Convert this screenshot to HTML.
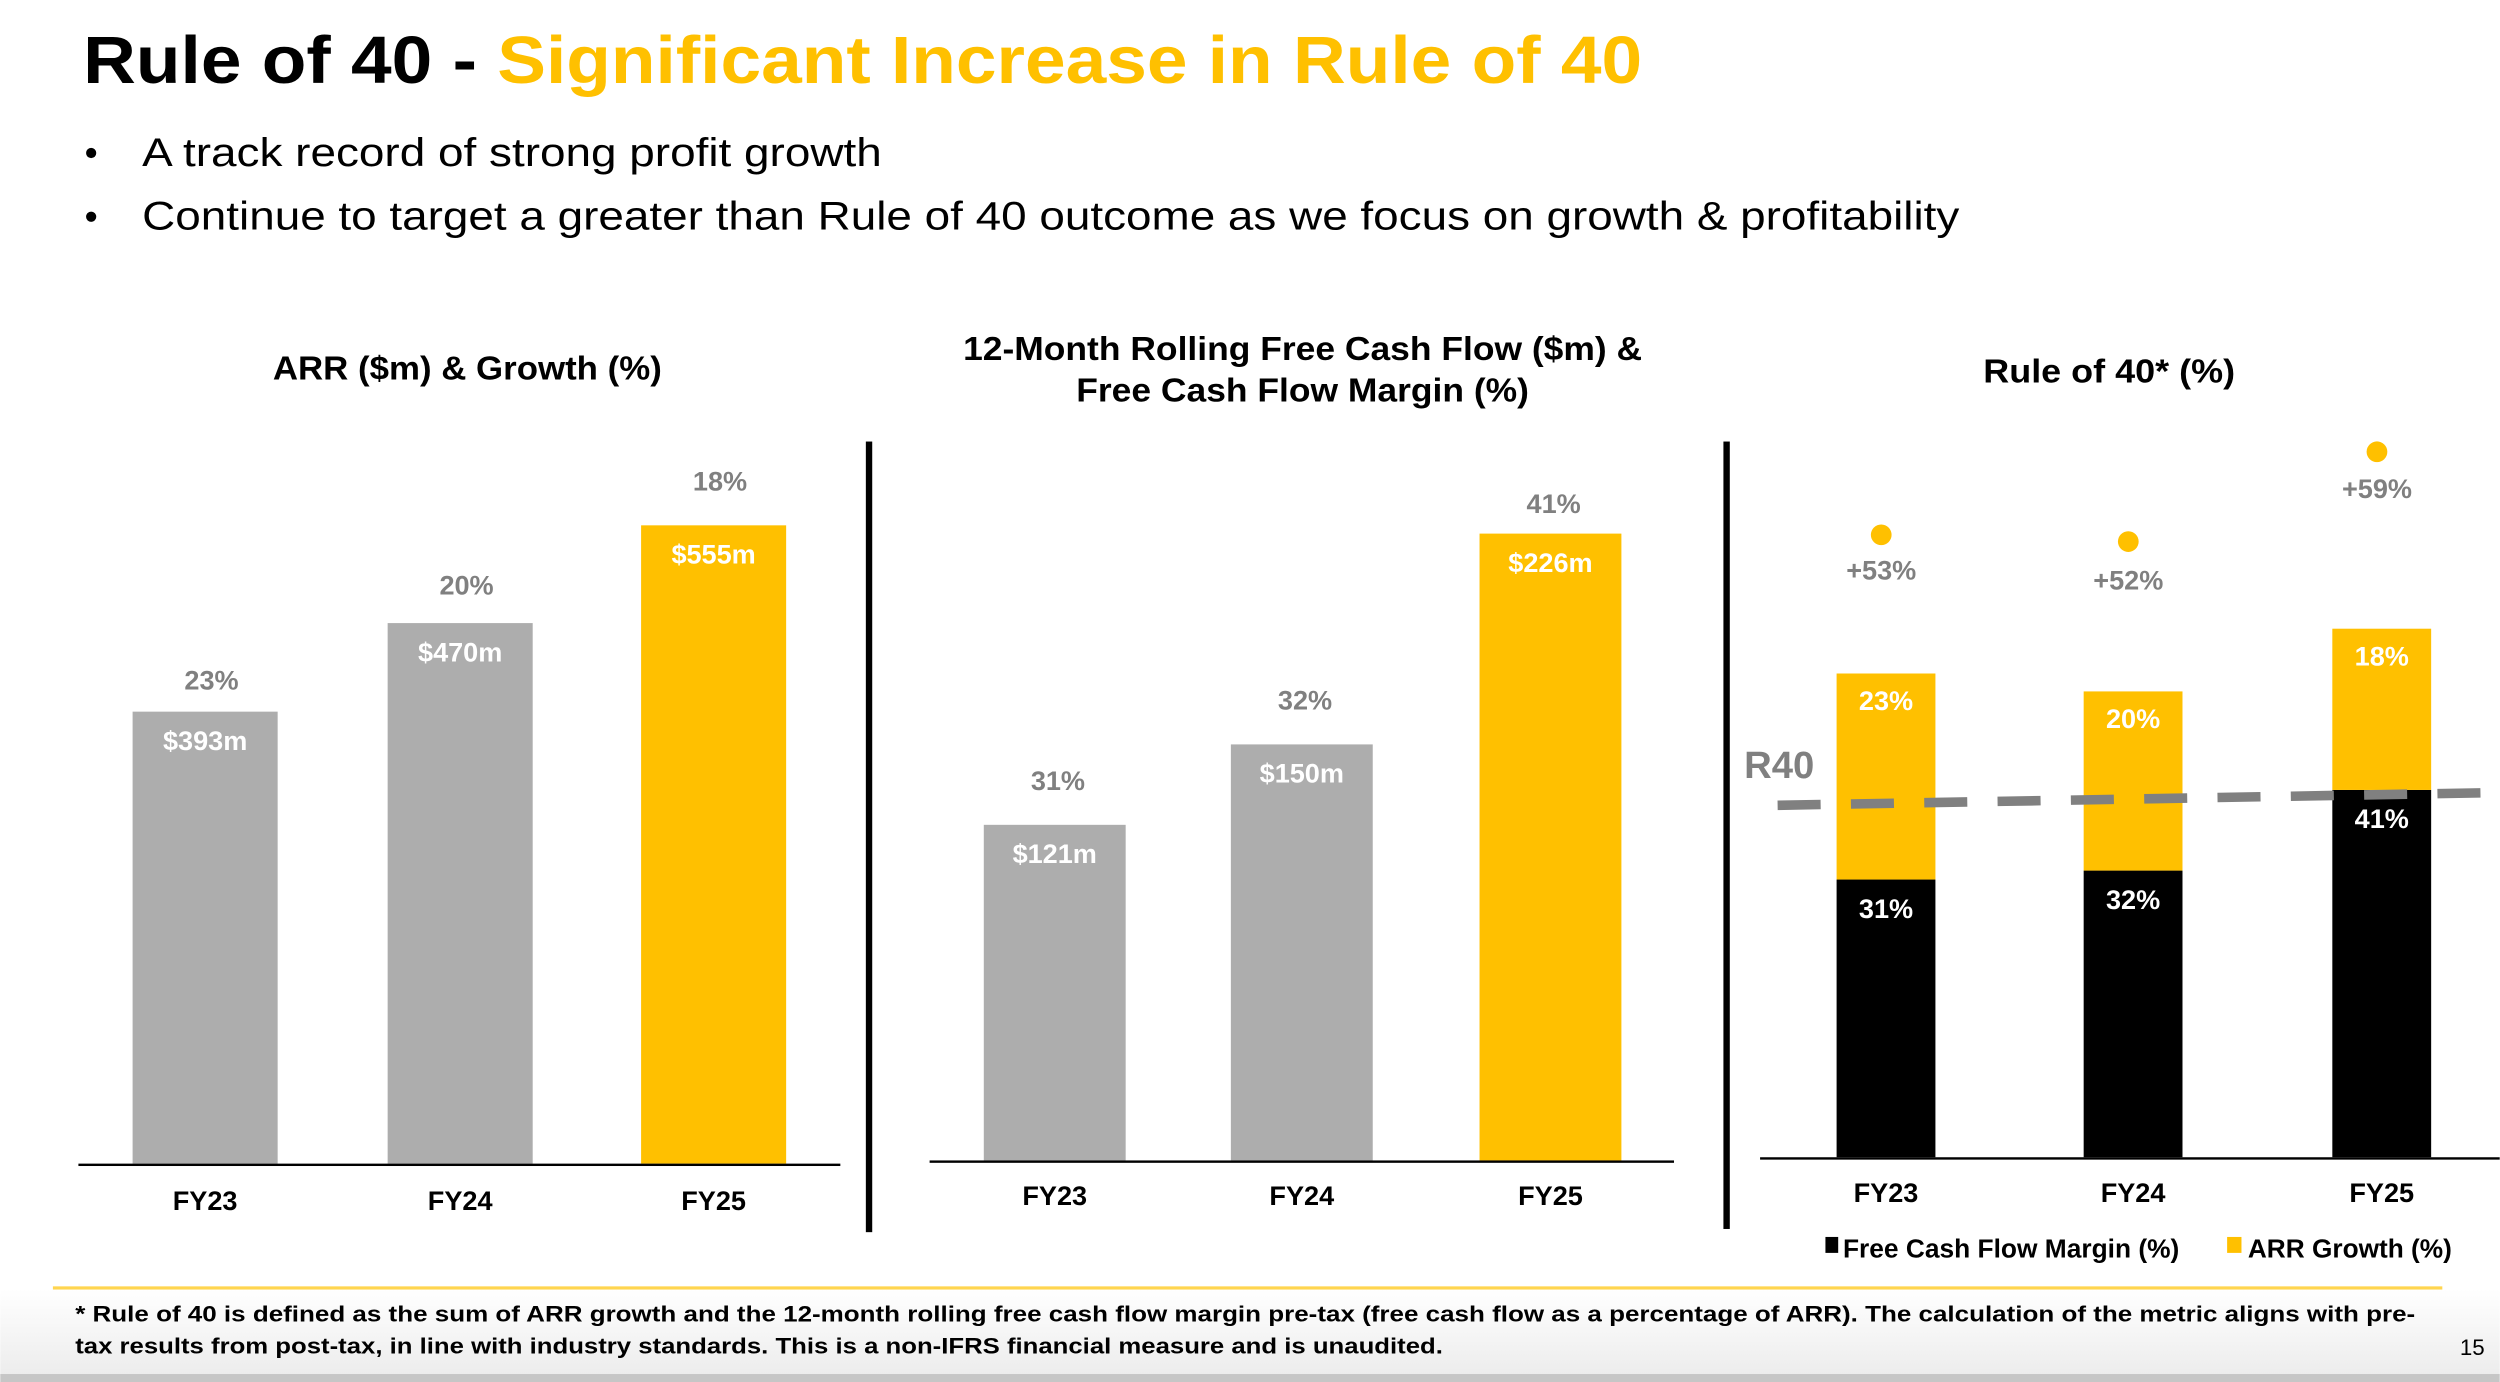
<!DOCTYPE html>
<html><head><meta charset="utf-8"><style>
html,body{margin:0;padding:0;background:#fff;width:2500px;height:1382px;overflow:hidden}
svg{display:block}
text{font-family:"Liberation Sans",sans-serif}
</style></head><body>
<svg id="s" width="2500" height="1382" viewBox="0 0 1568 867" xmlns="http://www.w3.org/2000/svg">
<defs><linearGradient id="g" x1="0" y1="0" x2="0" y2="1"><stop offset="0" stop-color="#fff"/><stop offset="1" stop-color="#ececec"/></linearGradient></defs>
<rect x="0" y="809" width="1568" height="54" fill="url(#g)"/>
<rect x="0" y="862" width="1568" height="5" fill="#c6c6c6"/>
<text x="52" y="52" font-size="42" font-weight="bold" textLength="978" lengthAdjust="spacingAndGlyphs"><tspan fill="#000">Rule of 40 - </tspan><tspan fill="#FFC000">Significant Increase in Rule of 40</tspan></text>
<circle cx="57" cy="96" r="3.2" fill="#000"/>
<text x="89" y="104" font-size="25" textLength="464" lengthAdjust="spacingAndGlyphs">A track record of strong profit growth</text>
<circle cx="57" cy="136" r="3.2" fill="#000"/>
<text x="89" y="144" font-size="25" textLength="1140" lengthAdjust="spacingAndGlyphs">Continue to target a greater than Rule of 40 outcome as we focus on growth &amp; profitability</text>
<text x="293" y="238" font-size="21" font-weight="bold" text-anchor="middle" textLength="244" lengthAdjust="spacingAndGlyphs">ARR ($m) &amp; Growth (%)</text>
<text x="817" y="226" font-size="21" font-weight="bold" text-anchor="middle" textLength="426" lengthAdjust="spacingAndGlyphs">12-Month Rolling Free Cash Flow ($m) &amp;</text>
<text x="817" y="252" font-size="21" font-weight="bold" text-anchor="middle" textLength="284" lengthAdjust="spacingAndGlyphs">Free Cash Flow Margin (%)</text>
<text x="1323" y="240" font-size="21" font-weight="bold" text-anchor="middle" textLength="158" lengthAdjust="spacingAndGlyphs">Rule of 40* (%)</text>
<rect x="543" y="277" width="4" height="496" fill="#000"/>
<rect x="1081" y="277" width="4" height="494" fill="#000"/>
<g id="c1"></g><g id="c2"></g><g id="c3"></g>
<rect x="1145" y="776" width="8" height="10" fill="#000"/>
<text x="1156" y="789" font-size="16" font-weight="bold" textLength="211" lengthAdjust="spacingAndGlyphs">Free Cash Flow Margin (%)</text>
<rect x="1397" y="776" width="9" height="10" fill="#FFC000"/>
<text x="1410" y="789" font-size="16" font-weight="bold" textLength="128" lengthAdjust="spacingAndGlyphs">ARR Growth (%)</text>
<rect x="33" y="807" width="1499" height="2" fill="#FFD54F"/>
<text x="47" y="829" font-size="14" font-weight="bold" textLength="1468" lengthAdjust="spacingAndGlyphs">* Rule of 40 is defined as the sum of ARR growth and the 12-month rolling free cash flow margin pre-tax (free cash flow as a percentage of ARR). The calculation of the metric aligns with pre-</text>
<text x="47" y="849" font-size="14" font-weight="bold" textLength="858" lengthAdjust="spacingAndGlyphs">tax results from post-tax, in line with industry standards. This is a non-IFRS financial measure and is unaudited.</text>
<text x="1543" y="850" font-size="14">15</text>
</svg>
<script>
const categories = ["FY23","FY24","FY25"];
const arrValues = [393,470,555];
const arrGrowth = [23,20,18];
const fcfValues = [121,150,226];
const fcfMargin = [31,32,41];
const r40Fcf = [31,32,41];
const r40Arr = [23,20,18];
const r40Total = ["+53%","+52%","+59%"];
const r40Line = 40;

const NS = "http://www.w3.org/2000/svg";
function mk(parent, tag, attrs, txt){
  const e = document.createElementNS(NS, tag);
  for (const k in attrs) e.setAttribute(k, attrs[k]);
  if (txt !== undefined) e.textContent = txt;
  parent.appendChild(e);
  return e;
}
const YEL="#FFC000", GRY="#ADADAD", LBL="#808080";

// Chart 1
(function(){
  const g = document.getElementById('c1');
  const base = 730, k = 0.7215, xs = [83,243,402], w = 91;
  const y = v => base - v*k;
  arrValues.forEach((v,i)=>{
    const r = mk(g,'rect',{x:xs[i],y:y(v),width:w,height:base-y(v),fill:i===2?YEL:GRY});
    
    
    const t = mk(g,'text',{x:xs[i]+w/2,y:y(v)+24,'font-size':17,'font-weight':'bold',fill:'#fff','text-anchor':'middle'},'$'+v+'m');
    
    
    const p = mk(g,'text',{x:xs[i]+w/2+4,y:y(v)-14-i*4,'font-size':17,'font-weight':'bold',fill:LBL,'text-anchor':'middle'},arrGrowth[i]+'%');
    
    
    const c = mk(g,'text',{x:xs[i]+w/2,y:759,'font-size':17,'font-weight':'bold',fill:'#000','text-anchor':'middle'},categories[i]);
    
    
  });
  const a = mk(g,'rect',{x:49,y:base,width:478,height:1.5,fill:'#000'});
  
  
})();

// Chart 2
(function(){
  const g = document.getElementById('c2');
  const base = 728, k = 1.74, xs = [617,772,928], w = 89;
  const y = v => base - v*k;
  fcfValues.forEach((v,i)=>{
    const r = mk(g,'rect',{x:xs[i],y:y(v),width:w,height:base-y(v),fill:i===2?YEL:GRY});
    
    
    const t = mk(g,'text',{x:xs[i]+w/2,y:y(v)+24,'font-size':17,'font-weight':'bold',fill:'#fff','text-anchor':'middle'},'$'+v+'m');
    
    
    const p = mk(g,'text',{x:xs[i]+w/2+2,y:y(v)-(i===2?13:22),'font-size':17,'font-weight':'bold',fill:LBL,'text-anchor':'middle'},fcfMargin[i]+'%');
    
    
    const c = mk(g,'text',{x:xs[i]+w/2,y:756,'font-size':17,'font-weight':'bold',fill:'#000','text-anchor':'middle'},categories[i]);
    
    
  });
  const a = mk(g,'rect',{x:583,y:base,width:467,height:1.5,fill:'#000'});
  
  
})();

// Chart 3
(function(){
  const g = document.getElementById('c3');
  const base = 726, k = 5.62, xs = [1152,1307,1463], w = 62;
  const y = v => base - v*k;
  const dotOff = [87,94,111], lblOff = [59,64,82];
  r40Fcf.forEach((v,i)=>{
    const yb = y(v), yt = y(v + r40Arr[i]);
    const b = mk(g,'rect',{x:xs[i],y:yb,width:w,height:base-yb,fill:'#000'});
    
    
    const a = mk(g,'rect',{x:xs[i],y:yt,width:w,height:yb-yt,fill:YEL});
    
    
    const t1 = mk(g,'text',{x:xs[i]+w/2,y:yb+24,'font-size':17,'font-weight':'bold',fill:'#fff','text-anchor':'middle'},v+'%');
    
    
    const t2 = mk(g,'text',{x:xs[i]+w/2,y:yt+23,'font-size':17,'font-weight':'bold',fill:'#fff','text-anchor':'middle'},r40Arr[i]+'%');
    
    
    const d = mk(g,'circle',{cx:xs[i]+w/2-3,cy:yt-dotOff[i],r:6.5,fill:YEL});
    
    
    const tl = mk(g,'text',{x:xs[i]+w/2-3,y:yt-lblOff[i],'font-size':17,'font-weight':'bold',fill:LBL,'text-anchor':'middle'},r40Total[i]);
    
    
    const c = mk(g,'text',{x:xs[i]+w/2,y:754,'font-size':17,'font-weight':'bold',fill:'#000','text-anchor':'middle'},categories[i]);
    
    
  });
  const yl = y(r40Line);
  const l = mk(g,'line',{x1:1115,y1:yl+4,x2:1568,y2:yl-4,stroke:'#808080','stroke-width':6,'stroke-dasharray':'27 19'});
  
  
  const rt = mk(g,'text',{x:1094,y:yl-13,'font-size':24,'font-weight':'bold',fill:LBL},'R40');
  
  
  const ax = mk(g,'rect',{x:1104,y:base,width:464,height:1.5,fill:'#000'});
  
  
})();
</script>
</body></html>
